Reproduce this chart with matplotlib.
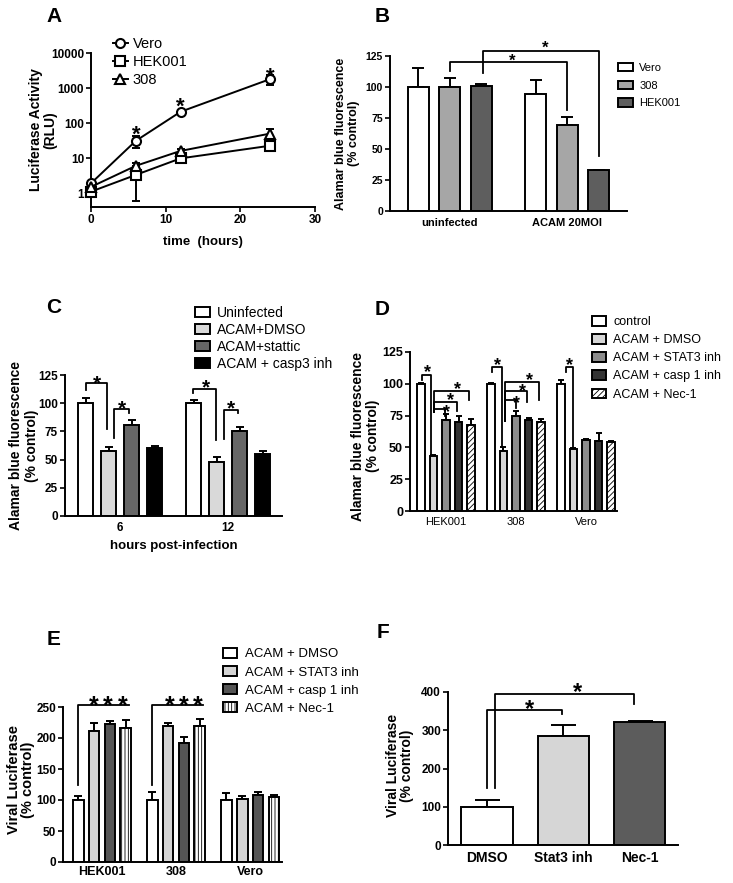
import numpy as np
import matplotlib
matplotlib.use("Agg")
import matplotlib.pyplot as plt
from matplotlib.patches import Patch

plt.rcParams['font.family'] = ['Liberation Sans', 'DejaVu Sans']
plt.rcParams['hatch.linewidth'] = 0.6

W, H = 733, 883

# ---- panel A: luciferase time course (log scale)
a_time = [0, 6, 12, 24]
a_vero = [1.9, 31, 210, 1800]
a_vero_err = [0.2, 12, 20, 600]
a_hek = [1.1, 3.3, 9.8, 22.5]
a_hek_err = [0.1, 2.7, 1, 3]
a_308 = [1.5, 6.0, 16, 50]
a_308_err = [0.1, 1, 2, 18]

# ---- panel B
b_groups = ['uninfected', 'ACAM 20MOI']
b_labels = ['Vero', '308', 'HEK001']
b_vero = [100, 94]
b_vero_err = [15, 12]
b_308 = [100, 69]
b_308_err = [7, 7]
b_hek = [101, 33]
b_hek_err = [1.5, 0]

# ---- panel C
c_groups = ['6', '12']
c_labels = ['Uninfected', 'ACAM+DMSO', 'ACAM+stattic', 'ACAM + casp3 inh']
c_uninf = [100, 100]
c_uninf_err = [5, 3]
c_dmso = [58, 48]
c_dmso_err = [3, 4]
c_stattic = [81, 75]
c_stattic_err = [4, 4]
c_casp3 = [60, 55]
c_casp3_err = [2, 2.5]

# ---- panel D
d_groups = ['HEK001', '308', 'Vero']
d_labels = ['control', 'ACAM + DMSO', 'ACAM + STAT3 inh', 'ACAM + casp 1 inh', 'ACAM + Nec-1']
d_control = [100, 100, 100]
d_control_err = [1, 1, 3]
d_dmso = [43.5, 47.4, 48.7]
d_dmso_err = [0.7, 3, 1]
d_stat3 = [71.5, 74.6, 55.8]
d_stat3_err = [4.5, 4, 1]
d_casp1 = [69.6, 71.5, 55]
d_casp1_err = [5, 1.3, 6]
d_nec1 = [68, 70, 54.5]
d_nec1_err = [4, 2, 0.6]

# ---- panel E
e_groups = ['HEK001', '308', 'Vero']
e_labels = ['ACAM + DMSO', 'ACAM + STAT3 inh', 'ACAM + casp 1 inh', 'ACAM + Nec-1']
e_dmso = [100, 100, 100]
e_dmso_err = [7, 13, 11]
e_stat3 = [211, 219, 101]
e_stat3_err = [14, 6, 5]
e_casp1 = [223, 192, 108]
e_casp1_err = [4, 10, 5]
e_nec1 = [216, 220, 105.5]
e_nec1_err = [13, 11, 2]

# ---- panel F
f_cats = ['DMSO', 'Stat3 inh', 'Nec-1']
f_vals = [100, 284, 322]
f_err = [18, 30, 1]

fig = plt.figure(figsize=(W / 100, H / 100), dpi=100)


def add_ax(l, t, r, b):
    ax = fig.add_axes([l / W, 1 - b / H, (r - l) / W, (b - t) / H])
    ax.spines[['top', 'right']].set_visible(False)
    ax.spines[['left', 'bottom']].set_linewidth(1.4)
    ax.tick_params(direction='out', width=1.2, length=3.5, pad=1.5)
    return ax


def bars(ax, n_groups, series, errs, colors, step, width, hatches=None, cap=3):
    x = np.arange(n_groups)
    n = len(series)
    for i in range(n):
        xi = x + (i - (n - 1) / 2) * step
        h = hatches[i] if hatches else None
        ax.bar(xi, series[i], width, color=colors[i], edgecolor='black',
               linewidth=1.4, hatch=h, zorder=2)
        ax.errorbar(xi, series[i], yerr=[np.zeros(n_groups), errs[i]], fmt='none',
                    ecolor='black', elinewidth=1.4, capsize=cap, capthick=1.4, zorder=1)
    return x


def bracket(ax, x1, y1, x2, y2, top):
    ax.plot([x1, x1, x2, x2], [y1, top, top, y2], color='black', lw=1.3,
            clip_on=False, zorder=4)


def star(ax, x, y, fs):
    ax.annotate('*', (x, y), xytext=(0, -0.56 * fs), textcoords='offset points',
                ha='center', va='baseline', fontsize=fs, fontweight='bold',
                annotation_clip=False, zorder=5)


def box_legend(ax, labels, colors, hatches, x, y, fs, hl, hh, lsp, htp):
    handles = [Patch(facecolor=c, edgecolor='black', linewidth=1.4, hatch=h)
               for c, h in zip(colors, hatches)]
    ax.legend(handles=handles, labels=labels, loc='upper left',
              bbox_to_anchor=(x / W, 1 - y / H), bbox_transform=fig.transFigure,
              frameon=False, fontsize=fs, handlelength=hl, handleheight=hh,
              labelspacing=lsp, handletextpad=htp, borderpad=0, borderaxespad=0)


def bold_ticks(ax, xs, ys, xbold=True, ybold=True):
    for t in ax.get_xticklabels():
        t.set_fontsize(xs)
        t.set_fontweight('bold' if xbold else 'normal')
    for t in ax.get_yticklabels():
        t.set_fontsize(ys)
        t.set_fontweight('bold' if ybold else 'normal')


def ylabel(ax, txt, fs, xc, yc, ls=1.1):
    ax.set_ylabel(txt, fontsize=fs, fontweight='bold', linespacing=ls)
    ax.yaxis.label.set_verticalalignment('center')
    ax.yaxis.set_label_coords(xc, yc)


def letter(txt, x, y):
    fig.text(x / W, 1 - y / H, txt, fontsize=15, fontweight='bold', ha='center', va='baseline')


# ================= A
ax = add_ax(91, 53, 315, 207)
ax.set_yscale('log')
series_a = [(a_vero, a_vero_err, 'o', 'Vero'), (a_hek, a_hek_err, 's', 'HEK001'),
            (a_308, a_308_err, '^', '308')]
handles = []
for vals, err, m, lab in series_a:
    ax.errorbar(a_time, vals, yerr=err, fmt='none', ecolor='black', elinewidth=1.4,
                capsize=3, capthick=1.4, clip_on=False, zorder=2)
    ln, = ax.plot(a_time, vals, marker=m, color='black', lw=1.4, ms=6.5, mew=1.5,
                  mfc='white', clip_on=False, zorder=3, label=lab)
    handles.append(ln)
ax.set_xlim(0, 30)
ax.set_ylim(0.4, 10000)
ax.set_xticks([0, 10, 20, 30])
ax.set_yticks([1, 10, 100, 1000, 10000], ['1', '10', '100', '1000', '10000'])
ax.minorticks_off()
bold_ticks(ax, 8.5, 8.5)
ax.set_xlabel('time  (hours)', fontsize=9.5, fontweight='bold')
ax.xaxis.set_label_coords(0.5, -0.19)
ylabel(ax, 'Luciferase Activity\n(RLU)', 10, -0.214, 0.5, 1.0)
for xs, ys in zip([6, 12, 24], [72, 455, 3250]):
    star(ax, xs, ys, 16)
ax.legend(handles=handles, loc='upper left', bbox_to_anchor=(113 / W, 1 - 37 / H),
          bbox_transform=fig.transFigure, frameon=False, fontsize=10.5,
          handlelength=1.0, labelspacing=0.29, handletextpad=0.35, borderpad=0,
          borderaxespad=0)
letter('A', 54, 22)

# ================= B
ax = add_ax(390, 56, 627, 211)
b_colors = ['white', '#a6a6a6', '#5e5e5e']
x = bars(ax, 2, [b_vero, b_308, b_hek], [b_vero_err, b_308_err, b_hek_err], b_colors,
         0.269, 0.18, cap=4)
ax.set_xlim(-0.51, 1.51)
ax.set_ylim(0, 125)
ax.set_yticks(np.arange(0, 126, 25))
ax.set_xticks(x, b_groups)
ax.tick_params(axis='x', length=0, pad=5)
bold_ticks(ax, 8, 7.5)
ylabel(ax, 'Alamar blue fluorescence\n(% control)', 9, -0.181, 0.5)
bracket(ax, 0, 113, 1, 81.5, 120.5)
bracket(ax, 0.285, 111, 1.27, 44.6, 129.3)
star(ax, 0.53, 124.5, 12)
star(ax, 0.81, 135, 12)
box_legend(ax, b_labels, b_colors, [None] * 3, 618, 63, 8, 1.35, 0.75, 0.69, 0.55)
letter('B', 382, 22)

# ================= C
ax = add_ax(65, 375, 282, 516)
c_colors = ['white', '#d9d9d9', '#666666', 'black']
x = bars(ax, 2, [c_uninf, c_dmso, c_stattic, c_casp3],
         [c_uninf_err, c_dmso_err, c_stattic_err, c_casp3_err], c_colors, 0.213, 0.143)
ax.set_xlim(-0.51, 1.5)
ax.set_ylim(0, 125)
ax.set_yticks(np.arange(0, 126, 25))
ax.set_xticks(x, c_groups)
ax.tick_params(axis='x', length=0, pad=4)
bold_ticks(ax, 8.5, 8.5)
ax.set_xlabel('hours post-infection', fontsize=9.5, fontweight='bold')
ax.xaxis.set_label_coords(0.5, -0.17)
ylabel(ax, 'Alamar blue fluorescence\n(% control)', 10, -0.189, 0.5)
bracket(ax, -0.315, 112, -0.118, 77, 118)
star(ax, -0.21, 123, 15)
bracket(ax, -0.053, 69, 0.083, 91, 95)
star(ax, 0.015, 100, 15)
bracket(ax, 1 - 0.32, 109, 1 - 0.11, 67, 113)
star(ax, 1 - 0.206, 119, 15)
bracket(ax, 1 - 0.037, 68, 1 + 0.095, 91, 94)
star(ax, 1 + 0.025, 100, 15)
box_legend(ax, c_labels, c_colors, [None] * 4, 195, 306, 10, 1.1, 0.7, 0.22, 0.5)
letter('C', 54, 313)

# ================= D
ax = add_ax(410, 352, 617, 511)
d_colors = ['white', '#d6d6d6', '#8c8c8c', '#333333', 'white']
d_hatch = [None, None, None, None, '//////']
x = bars(ax, 3, [d_control, d_dmso, d_stat3, d_casp1, d_nec1],
         [d_control_err, d_dmso_err, d_stat3_err, d_casp1_err, d_nec1_err],
         d_colors, 0.179, 0.11, hatches=d_hatch, cap=2.5)
ax.set_xlim(-0.514, 2.443)
ax.set_ylim(0, 125)
ax.set_yticks(np.arange(0, 126, 25))
ax.set_xticks(x, d_groups)
ax.tick_params(axis='x', length=0, pad=4)
bold_ticks(ax, 8, 9, xbold=False)
ylabel(ax, 'Alamar blue fluorescence\n(% control)', 10, -0.217, 0.47)
# HEK001
bracket(ax, -0.343, 103, -0.214, 44, 107)
star(ax, -0.27, 113, 13)
bracket(ax, -0.171, 78, 0.33, 87, 94)
bracket(ax, -0.171, 78, 0.157, 79, 86)
bracket(ax, -0.171, 78, -0.014, 75, 80)
star(ax, 0.171, 100, 13)
star(ax, 0.071, 91, 13)
star(ax, 0.014, 82, 13)
# 308
bracket(ax, 1 - 0.343, 109, 1 - 0.2, 50.5, 113)
star(ax, 1 - 0.257, 119, 13)
bracket(ax, 1 - 0.157, 71, 1.33, 87, 101.5)
bracket(ax, 1 - 0.157, 71, 1.157, 86, 94)
bracket(ax, 1 - 0.157, 71, 1.0, 81, 87)
star(ax, 1.186, 107, 13)
star(ax, 1.086, 98, 13)
star(ax, 1.014, 89, 13)
# Vero
bracket(ax, 2 - 0.286, 109, 2 - 0.186, 50.5, 113)
star(ax, 2 - 0.229, 119, 13)
box_legend(ax, d_labels, d_colors, d_hatch, 592, 316, 9, 1.1, 0.8, 0.48, 0.6)
letter('D', 382, 315)

# ================= E
ax = add_ax(63, 707, 282, 862)
e_colors = ['white', '#d4d4d4', '#555555', 'white']
e_hatch = [None, None, None, '|||||']
x = bars(ax, 3, [e_dmso, e_stat3, e_casp1, e_nec1],
         [e_dmso_err, e_stat3_err, e_casp1_err, e_nec1_err],
         e_colors, 0.213, 0.142, hatches=e_hatch, cap=3)
ax.set_xlim(-0.527, 2.43)
ax.set_ylim(0, 250)
ax.set_yticks(np.arange(0, 251, 50))
ax.set_xticks(x, e_groups)
ax.tick_params(axis='x', length=0, pad=3)
bold_ticks(ax, 9, 8.5)
ylabel(ax, 'Viral Luciferase\n(% control)', 10.5, -0.19, 0.53, 1.0)
for g, xs in zip([0, 1], [[-0.108, 0.081, 0.284], [-0.081, 0.108, 0.297]]):
    bracket(ax, g - 0.33, 124, g + 0.36, 252.7, 252.7)
    for sx in xs:
        star(ax, g + sx, 263, 18)
box_legend(ax, e_labels, e_colors, e_hatch, 223, 648, 9.5, 1.05, 0.75, 0.43, 0.6)
letter('E', 54, 645)

# ================= F
ax = add_ax(448, 692, 678, 845)
f_colors = ['white', '#d6d6d6', '#5c5c5c']
xf = np.arange(len(f_cats))
ax.bar(xf, f_vals, 0.67, color=f_colors, edgecolor='black', linewidth=1.4, zorder=2)
ax.errorbar(xf, f_vals, yerr=[np.zeros(3), f_err], fmt='none', ecolor='black',
            elinewidth=1.4, capsize=9, capthick=1.4, zorder=1)
ax.set_xlim(-0.51, 2.5)
ax.set_ylim(0, 400)
ax.set_yticks(np.arange(0, 401, 100))
ax.set_xticks(xf, f_cats)
ax.tick_params(axis='x', length=0, pad=4)
bold_ticks(ax, 10, 8.5)
ylabel(ax, 'Viral Luciferase\n(% control)', 10, -0.209, 0.52, 1.05)
bracket(ax, 0, 148, 0.98, 343, 354)
star(ax, 0.56, 371, 17)
bracket(ax, 0.105, 148, 1.92, 369, 396)
star(ax, 1.18, 417, 17)
letter('F', 383, 638)

fig.savefig('out.png', dpi=100)
